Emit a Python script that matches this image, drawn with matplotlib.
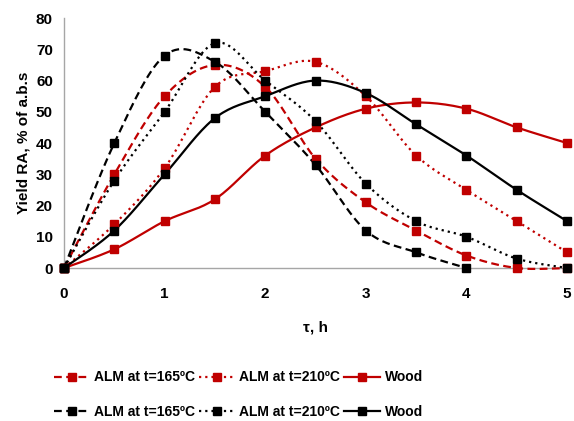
import numpy as np
import matplotlib
matplotlib.use('Agg')
import matplotlib.pyplot as plt

# data
tau = [0, 0.5, 1, 1.5, 2, 2.5, 3, 3.5, 4, 4.5, 5]
red_165 = [0, 30, 55, 65, 58, 35, 21, 12, 4, 0, 0]
red_210 = [0, 14, 32, 58, 63, 66, 55, 36, 25, 15, 5]
red_wood = [0, 6, 15, 22, 36, 45, 51, 53, 51, 45, 40]
blk_165 = [0, 40, 68, 66, 50, 33, 12, 5, 0]
blk_210 = [0, 28, 50, 72, 60, 47, 27, 15, 10, 3, 0]
blk_wood = [0, 12, 30, 48, 55, 60, 56, 46, 36, 25, 15]
labels = ['ALM at t=165ºC', 'ALM at t=210ºC', 'Wood']

plt.rcParams['font.family'] = ['Liberation Sans', 'DejaVu Sans']
plt.rcParams['font.weight'] = 'bold'


def smooth(x, y, n=20):
    # excel-like smoothed line (catmull-rom bezier)
    x = np.asarray(x, float)
    y = np.asarray(y, float)
    p = np.column_stack([x, y])
    p = np.vstack([p[0], p, p[-1]])
    out = []
    t = np.linspace(0, 1, n)[:, None]
    for i in range(1, len(p) - 2):
        p0, p1, p2, p3 = p[i - 1], p[i], p[i + 1], p[i + 2]
        c1 = p1 + (p2 - p0) / 6
        c2 = p2 - (p3 - p1) / 6
        seg = ((1 - t) ** 3) * p1 + 3 * ((1 - t) ** 2) * t * c1 + 3 * (1 - t) * t ** 2 * c2 + t ** 3 * p2
        out.append(seg if i == 1 else seg[1:])
    out = np.vstack(out)
    return out[:, 0], out[:, 1]


fig = plt.figure(figsize=(5.74, 4.21), dpi=100)
ax = fig.add_axes([0.1115, 0.3634, 0.8765, 0.5936])

red = '#C00000'
dash = (0, (3.5, 2))
dot = (0, (1, 1.8))
styles = [
    (red_165, red, dash),
    (red_210, red, dot),
    (red_wood, red, '-'),
    (blk_165, 'black', dash),
    (blk_210, 'black', dot),
    (blk_wood, 'black', '-'),
]
handles = []
for vals, col, ls in styles:
    xs = tau[:len(vals)]
    sx, sy = smooth(xs, vals)
    ax.plot(sx, sy, color=col, ls=ls, lw=1.6, clip_on=False, zorder=3)
    ax.plot(xs, vals, ls='none', marker='s', ms=6, color=col, clip_on=False, zorder=4)
    h, = ax.plot([], [], color=col, ls=ls, lw=1.6, marker='s', ms=6)
    handles.append(h)

ax.set_xlim(0, 5)
ax.set_ylim(0, 80)
ax.set_xticks(range(6))
ax.set_yticks(range(0, 81, 10))
ax.tick_params(axis='x', length=0, labelsize=11, pad=14)
ax.tick_params(axis='y', length=0, labelsize=11, pad=8)
for s in ['top', 'right']:
    ax.spines[s].set_visible(False)
for s in ['left', 'bottom']:
    ax.spines[s].set_color('#a6a6a6')
    ax.spines[s].set_linewidth(1)
ax.set_xlabel('τ, h', fontsize=11, fontweight='bold', labelpad=14)
ax.set_ylabel('Yield RA, % of a.b.s', fontsize=11, fontweight='bold', labelpad=4)

order = [handles[0], handles[3], handles[1], handles[4], handles[2], handles[5]]
leg_labels = [labels[0], labels[0], labels[1], labels[1], labels[2], labels[2]]
fig.legend(order, leg_labels, ncol=3, loc='center', bbox_to_anchor=(0.415, 0.062),
           frameon=False, fontsize=10, handlelength=2.6, handletextpad=0.3,
           columnspacing=0.3, labelspacing=1.5)

fig.savefig('out.png', dpi=100)
